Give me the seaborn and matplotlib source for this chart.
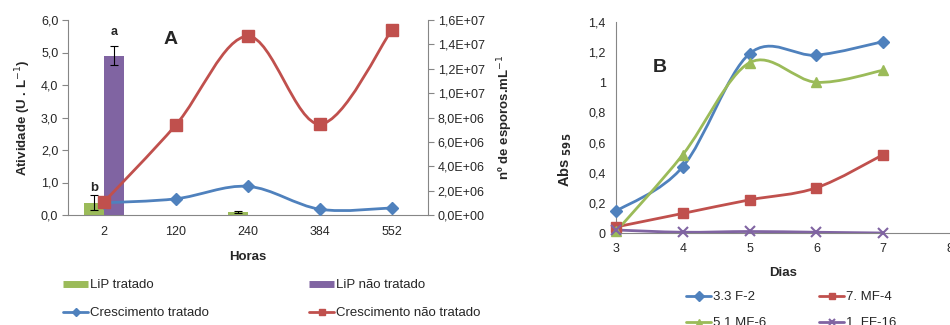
import numpy as np
import pandas as pd
import matplotlib
matplotlib.use("Agg")
import matplotlib.pyplot as plt
from matplotlib.path import Path
from matplotlib.patches import PathPatch
from matplotlib.lines import Line2D
import seaborn as sns

# ---------------- data ----------------
horas = ["2", "120", "240", "384", "552"]
lip_tratado = [0.38, 0.0, 0.08, 0.0, 0.0]
lip_tratado_err = [0.24, 0.0, 0.03, 0.0, 0.0]
lip_nao_tratado = [4.9, 0.0, 0.0, 0.0, 0.0]
lip_nao_tratado_err = [0.3, 0.0, 0.0, 0.0, 0.0]
cresc_tratado = [1.0e6, 1.33e6, 2.35e6, 0.47e6, 0.58e6]
cresc_nao_tratado = [1.07e6, 7.4e6, 14.67e6, 7.45e6, 15.2e6]
left_ticks_A = [0, 1, 2, 3, 4, 5, 6]
left_labels_A = ["0,0", "1,0", "2,0", "3,0", "4,0", "5,0", "6,0"]
right_ticks_A = [0, 2e6, 4e6, 6e6, 8e6, 10e6, 12e6, 14e6, 16e6]
right_labels_A = ["0,0E+00", "2,0E+06", "4,0E+06", "6,0E+06", "8,0E+06",
                  "1,0E+07", "1,2E+07", "1,4E+07", "1,6E+07"]

dias = [3, 4, 5, 6, 7]
f2_33 = [0.145, 0.44, 1.19, 1.18, 1.27]
mf4_7 = [0.04, 0.13, 0.22, 0.30, 0.52]
mf6_51 = [0.01, 0.52, 1.13, 1.00, 1.08]
ff16_1 = [0.02, 0.005, 0.01, 0.005, 0.0]
ticks_B_y = [0, 0.2, 0.4, 0.6, 0.8, 1.0, 1.2, 1.4]
labels_B_y = ["0", "0,2", "0,4", "0,6", "0,8", "1", "1,2", "1,4"]
ticks_B_x = [3, 4, 5, 6, 7, 8]

GREEN = "#9BBB59"
PURPLE = "#8064A2"
BLUE = "#4F81BD"
RED = "#C0504D"
GRAY = "#868686"

sns.set_theme(style="white")
plt.rcParams["font.family"] = ["Liberation Sans", "DejaVu Sans"]
plt.rcParams["font.size"] = 9


def smooth_path(xs, ys):
    pts = list(zip(xs, ys))
    n = len(pts)
    verts = [pts[0]]
    codes = [Path.MOVETO]
    for i in range(n - 1):
        p0 = pts[i - 1] if i > 0 else pts[i]
        p1 = pts[i]
        p2 = pts[i + 1]
        p3 = pts[i + 2] if i + 2 < n else pts[i + 1]
        c1 = (p1[0] + (p2[0] - p0[0]) / 6, p1[1] + (p2[1] - p0[1]) / 6)
        c2 = (p2[0] - (p3[0] - p1[0]) / 6, p2[1] - (p3[1] - p1[1]) / 6)
        verts += [c1, c2, p2]
        codes += [Path.CURVE4] * 3
    return Path(verts, codes)


def add_smooth(ax, xs, ys, color, lw=2.0, z=3):
    patch = PathPatch(smooth_path(xs, ys), facecolor="none", edgecolor=color,
                      lw=lw, zorder=z, capstyle="round", joinstyle="round")
    ax.add_patch(patch)


fig = plt.figure(figsize=(9.5, 3.25), dpi=100)
W, H = 950, 325

# ---------------- panel A ----------------
axA = fig.add_axes([68 / W, 1 - 215 / H, (428 - 68) / W, (215 - 20) / H])
df = pd.DataFrame({
    "Horas": horas * 2,
    "Tratamento": ["LiP tratado"] * 5 + ["LiP não tratado"] * 5,
    "Atividade": lip_tratado + lip_nao_tratado,
})
sns.barplot(data=df, x="Horas", y="Atividade", hue="Tratamento", order=horas,
            hue_order=["LiP tratado", "LiP não tratado"],
            palette=[GREEN, PURPLE], width=0.56, saturation=1,
            errorbar=None, legend=False, ax=axA, zorder=2, linewidth=0,
            edgecolor="none")
xpos = np.arange(len(horas))
for vals, errs, off in [(lip_tratado, lip_tratado_err, -0.14),
                        (lip_nao_tratado, lip_nao_tratado_err, 0.14)]:
    idx = [i for i in range(len(vals)) if errs[i] > 0]
    axA.errorbar(xpos[idx] + off, np.array(vals)[idx], yerr=np.array(errs)[idx],
                 fmt="none", ecolor="black", elinewidth=0.8, capsize=3,
                 capthick=0.8, zorder=4)
axA.set_xlim(-0.5, 4.5)
axA.set_ylim(0, 6)
axA.set_yticks(left_ticks_A)
axA.set_yticklabels(left_labels_A)
axA.set_xticks(xpos)
axA.set_xticklabels(horas)
axA.set_xticks(np.arange(-0.5, 5.0, 1.0), minor=True)
axA.tick_params(axis="x", which="major", length=0, pad=8, labelsize=9)
axA.tick_params(axis="x", which="minor", length=4, direction="out", color=GRAY, width=0.8)
axA.tick_params(axis="y", length=4, direction="out", color=GRAY, width=0.8, labelsize=9, pad=3)
axA.set_xlabel("Horas", fontweight="bold", fontsize=9.5, labelpad=9)
axA.set_ylabel("Atividade (U . L$^{-1}$)", fontweight="bold", fontsize=9.5, labelpad=6)
for s in ["top", "right"]:
    axA.spines[s].set_visible(False)
for s in ["left", "bottom"]:
    axA.spines[s].set_color(GRAY)
    axA.spines[s].set_linewidth(0.8)
axA.text(0.14, 5.45, "a", ha="center", va="bottom", fontsize=9, fontweight="bold")
axA.text(-0.14, 0.64, "b", ha="center", va="bottom", fontsize=9.5, fontweight="bold")
axA.text(0.92, 5.4, "A", ha="center", va="center", fontsize=14, fontweight="bold")

axA2 = axA.twinx()
axA2.set_ylim(0, 1.6e7)
axA2.set_yticks(right_ticks_A)
axA2.set_yticklabels(right_labels_A)
axA2.tick_params(axis="y", length=4, direction="out", color=GRAY, width=0.8, labelsize=9, pad=3)
for s in ["top", "left", "bottom"]:
    axA2.spines[s].set_visible(False)
axA2.spines["right"].set_color(GRAY)
axA2.spines["right"].set_linewidth(0.8)
axA2.set_ylabel("nº de esporos.mL$^{-1}$", fontweight="bold", fontsize=9.5, labelpad=8)
add_smooth(axA2, xpos, cresc_tratado, BLUE)
add_smooth(axA2, xpos, cresc_nao_tratado, RED)
axA2.plot(xpos, cresc_tratado, linestyle="none", marker="D", markersize=6,
          color=BLUE, zorder=5)
axA2.plot(xpos, cresc_nao_tratado, linestyle="none", marker="s", markersize=8,
          color=RED, zorder=5)
axA2.set_xlim(-0.5, 4.5)

handlesA = [
    Line2D([], [], color=GREEN, lw=5, solid_capstyle="butt"),
    Line2D([], [], color=BLUE, lw=2, marker="D", markersize=4),
    Line2D([], [], color=PURPLE, lw=5, solid_capstyle="butt"),
    Line2D([], [], color=RED, lw=2, marker="s", markersize=5),
]
labelsA = ["LiP tratado", "Crescimento tratado", "LiP não tratado",
           "Crescimento não tratado"]
fig.legend(handlesA, labelsA, ncol=2, loc="upper left",
           bbox_to_anchor=(63 / W, 1 - 279 / H), frameon=False, fontsize=9.5,
           handlelength=1.9, handletextpad=0.15, columnspacing=7.6,
           labelspacing=1.2, borderpad=0, borderaxespad=0)

# ---------------- panel B ----------------
axB = fig.add_axes([616 / W, 1 - 233 / H, (950 - 616) / W, (233 - 22) / H])
seriesB = [(f2_33, BLUE, "D", 6, "3.3 F-2"),
           (mf4_7, RED, "s", 7, "7. MF-4"),
           (mf6_51, GREEN, "^", 7, "5.1 MF-6"),
           (ff16_1, PURPLE, "x", 7, "1. FF-16")]
for vals, col, mk, ms, lab in seriesB:
    add_smooth(axB, dias, vals, col)
for vals, col, mk, ms, lab in seriesB:
    axB.plot(dias, vals, linestyle="none", marker=mk, markersize=ms, color=col,
             markeredgewidth=1.5 if mk == "x" else 1.0, zorder=5, clip_on=False)
axB.set_xlim(3, 8)
axB.set_ylim(0, 1.4)
axB.set_xticks(ticks_B_x)
axB.set_xticklabels([str(t) for t in ticks_B_x])
axB.set_yticks(ticks_B_y)
axB.set_yticklabels(labels_B_y)
axB.tick_params(axis="both", length=4, direction="out", color=GRAY, width=0.8, labelsize=9)
for s in ["top", "right"]:
    axB.spines[s].set_visible(False)
for s in ["left", "bottom"]:
    axB.spines[s].set_color(GRAY)
    axB.spines[s].set_linewidth(0.8)
axB.set_xlabel("Dias", fontweight="bold", fontsize=9.5, labelpad=8)
axB.set_ylabel(r"Abs $_{\mathbf{595}}$", fontweight="bold", fontsize=10.5)
axB.yaxis.set_label_coords((574 - 616) / 334, (233 - 160) / 211)
axB.text(3.66, 1.095, "B", ha="center", va="center", fontsize=14, fontweight="bold")

handlesB = [Line2D([], [], color=c, lw=2, marker=m, markersize=5,
                   markeredgewidth=1.5 if m == "x" else 1.0)
            for _, c, m, _, _ in [seriesB[0], seriesB[2], seriesB[1], seriesB[3]]]
labelsB = [seriesB[0][4], seriesB[2][4], seriesB[1][4], seriesB[3][4]]
fig.legend(handlesB, labelsB, ncol=2, loc="upper left",
           bbox_to_anchor=(686 / W, 1 - 291 / H), frameon=False, fontsize=9.5,
           handlelength=1.9, handletextpad=0.15, columnspacing=4.0,
           labelspacing=1.05, borderpad=0, borderaxespad=0)

fig.savefig("out.png", dpi=100)
